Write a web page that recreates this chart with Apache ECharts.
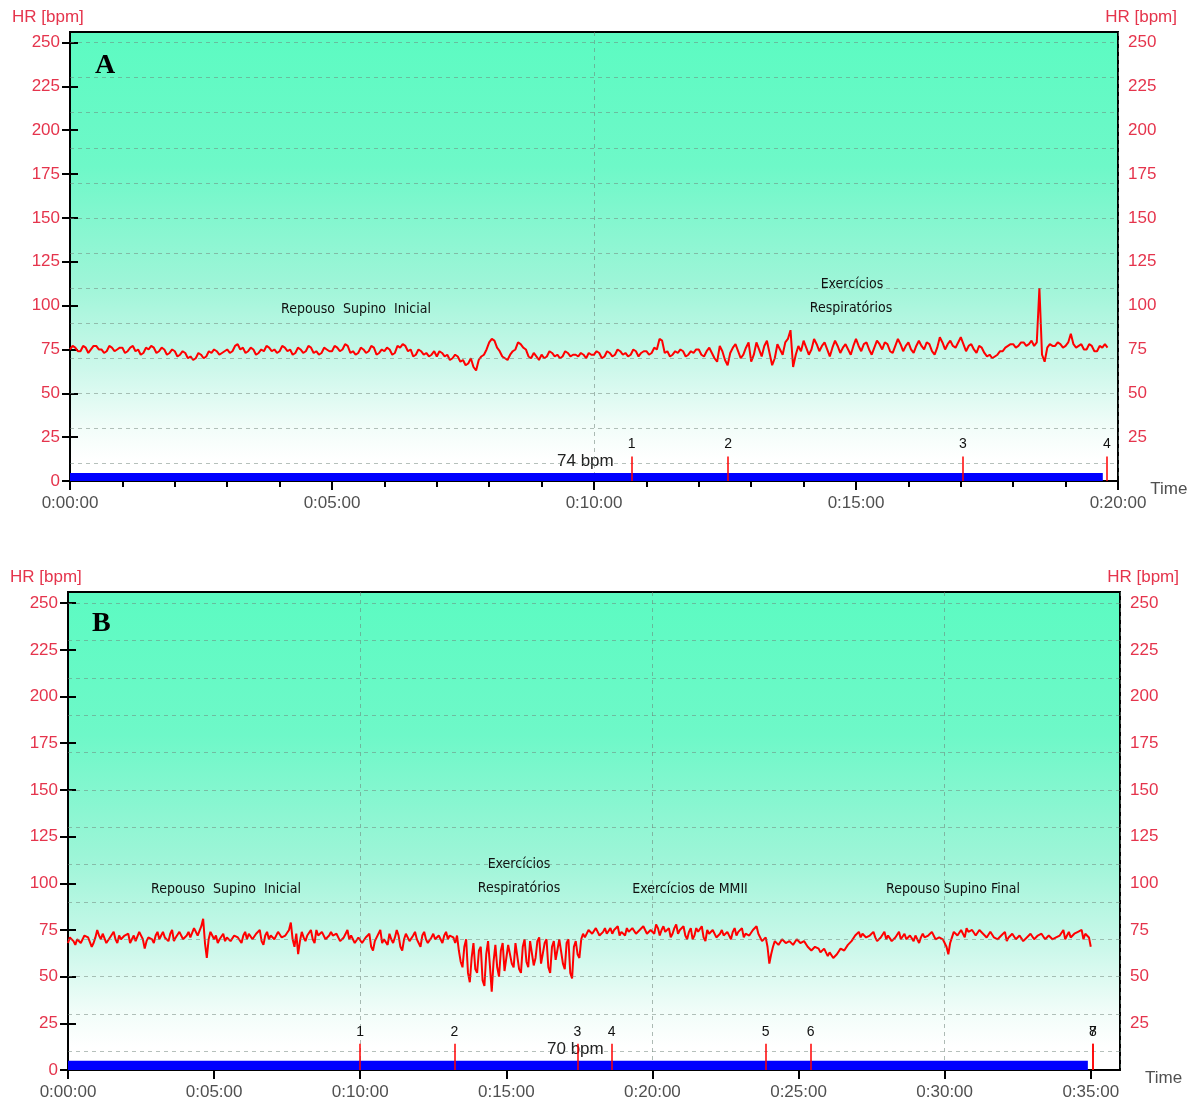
<!DOCTYPE html>
<html><head><meta charset="utf-8">
<script src="https://cdn.jsdelivr.net/npm/echarts@6/dist/echarts.min.js"></script>
<style>html,body{margin:0;padding:0;background:#fff}#c{width:1195px;height:1106px}</style>
</head><body><div id="c"></div>
<script>
// ---------- DATA ----------
// Panel A: heart rate (bpm), one sample every 0.05 min (3 s)
const stepA = 0.05;
const hrA = [
75,77,76,74,74,77,76,73,75,77,77,75,75,73,74,77,76,74,75,76,
76,73,74,76,77,74,75,72,73,76,75,77,76,73,74,76,75,72,73,75,
74,71,72,74,73,70,71,69,70,73,72,70,71,74,73,75,74,72,73,74,
75,73,74,77,78,75,76,73,74,76,75,72,73,75,74,77,76,74,75,73,
74,77,76,74,75,72,73,76,75,73,74,77,76,73,74,72,73,76,75,74,
74,77,76,74,75,78,77,73,74,72,73,76,75,73,74,77,76,72,73,75,
74,76,75,72,73,77,76,78,77,74,75,71,72,75,74,72,73,71,72,74,
71,74,73,71,72,69,70,72,71,68,69,66,67,70,65,63,69,71,72,75,
79,81,80,76,74,71,70,69,72,74,75,79,78,76,75,71,70,73,71,69,
72,70,71,74,73,71,72,70,71,74,73,71,72,72,71,73,72,70,73,72,
72,74,73,70,71,74,73,71,72,75,74,72,73,71,72,75,74,71,73,74,
74,72,73,76,75,81,80,73,74,71,72,74,73,75,74,71,72,74,73,75,
75,72,71,74,76,73,70,68,77,74,69,66,73,76,78,74,70,72,76,79,
68,72,79,75,71,77,80,73,66,70,78,75,72,79,81,86,65,72,77,74,
80,76,72,75,81,78,74,77,79,75,71,76,80,77,73,76,78,75,72,77,
81,77,74,78,79,75,72,76,80,78,75,79,78,74,73,77,81,78,74,77,
79,75,73,77,80,77,75,79,78,74,72,76,82,79,75,78,80,77,76,79,
82,78,74,77,78,75,73,77,76,73,71,72,70,71,72,74,74,76,77,78,
78,76,77,79,79,77,78,80,77,79,110,72,68,76,78,77,77,79,78,76,
77,79,84,78,76,77,78,75,75,78,77,74,74,77,76,78,76
];
// Panel B: heart rate (bpm), one sample every 0.0625 min (3.75 s)
const stepB = 0.0625;
const hrB = [
68,71,72,69,67,70,71,68,69,72,73,71,70,66,68,71,
75,72,70,73,72,68,69,71,71,74,70,68,72,70,69,72,
71,73,68,70,72,69,70,74,73,70,65,69,71,72,70,68,
72,74,70,72,74,71,71,69,73,75,69,71,72,74,73,70,
70,72,74,71,72,76,75,72,73,77,81,68,60,70,74,72,
70,72,68,70,71,73,69,71,72,69,70,72,73,71,71,68,
72,74,70,73,74,70,71,73,73,75,69,67,72,74,70,72,
73,70,71,74,74,71,70,72,72,75,79,70,66,73,62,69,
74,71,69,72,72,75,70,68,75,72,71,74,73,70,70,72,
74,72,71,73,72,69,68,71,73,75,70,72,71,68,69,71,
70,68,67,71,71,73,66,64,69,71,72,75,68,70,70,67,
73,70,68,71,75,72,66,64,70,73,72,69,69,72,74,70,
68,66,72,74,70,68,67,71,73,70,69,72,71,68,72,74,
70,72,73,71,68,72,64,58,55,66,70,52,47,60,68,54,
52,64,66,48,45,62,69,56,42,58,67,55,50,64,68,53,
53,67,66,57,55,68,69,54,52,66,70,58,55,69,68,56,
60,69,71,57,56,68,70,55,52,66,69,59,58,70,71,57,
54,68,70,52,49,66,69,62,60,70,73,71,72,75,76,73,
73,76,75,72,72,74,76,73,74,76,73,75,75,77,72,74,
74,72,76,74,73,76,75,73,72,75,74,77,76,73,73,75,
75,73,78,76,72,75,77,74,74,76,71,73,76,78,73,75,
75,77,72,70,74,76,70,72,76,74,73,77,71,69,75,73,
72,75,74,71,70,73,75,72,71,74,73,70,74,76,72,74,
75,76,71,73,74,72,72,75,75,77,73,74,69,70,71,66,
57,62,66,69,70,67,68,70,70,68,67,69,69,67,68,70,
70,68,67,69,69,66,66,64,64,66,67,65,63,64,65,63,
61,63,62,60,60,62,63,65,66,64,65,67,68,69,70,72,
72,74,71,73,73,71,70,72,72,74,71,69,69,71,72,74,
70,72,71,69,68,71,72,74,70,71,73,70,69,72,71,69,
72,70,68,71,73,71,70,72,71,74,74,70,69,71,72,70,
70,66,62,68,71,74,73,72,72,75,74,71,76,74,73,75,
74,72,72,75,75,73,73,71,71,74,74,71,72,70,70,72,
72,74,69,71,71,73,73,70,70,72,72,69,68,71,71,73,
72,70,70,72,71,73,73,70,69,72,72,70,70,71,71,72,
73,75,70,72,74,71,71,73,72,74,73,75,70,73,72,71,
66
];
// Event markers (minutes) and their labels
const eventsA = [10.72, 12.56, 17.04, 19.79];
const eventLabelsA = ['1','2','3','4'];
const eventsB = [10.0, 13.22, 17.43, 18.6, 23.87, 25.41, 35.07, 35.07];
const eventLabelsB = ['1','2','3','4','5','6','7','8'];
// Blue status bar extent (minutes) and height (bpm units)
const barA = [[0, 4.5], [19.71, 4.5]];
const barB = [[0, 5], [34.9, 5]];
// Axis ticks
const yTicks = [0,25,50,75,100,125,150,175,200,225,250];
const yTicksRightLabels = [25,50,75,100,125,150,175,200,225,250];
const hGrid = [10,30,50,70,90,110,130,150,170,190,210,230,250];
const markerTop = 14;
const meanTextA = '74 bpm';
const meanTextB = '70 bpm';

// ---------- CHART ----------
const RED_LABEL = '#e5344c';
const seriesPts = (arr, step) => arr.map((v, i) => [Math.round(i * step * 10000) / 10000, v]);
const fmtTime = v => '0:' + String(Math.round(v)).padStart(2, '0') + ':00';

const bg = {
  type: 'linear', x: 0, y: 0, x2: 0, y2: 1,
  colorStops: [
    {offset: 0, color: '#5cfbc2'},
    {offset: 0.3, color: '#6ef8c8'},
    {offset: 0.55, color: '#9cf5d7'},
    {offset: 0.75, color: '#cdf8eb'},
    {offset: 0.88, color: '#f2fdf9'},
    {offset: 0.95, color: '#ffffff'},
    {offset: 1, color: '#ffffff'}
  ]
};

function yAxisCfg(gridIndex, pos) {
  return {
    type: 'value', gridIndex, position: pos, min: 0, max: 256, interval: 25,
    axisLine: {show: true, lineStyle: {color: '#000', width: 2}},
    axisTick: {show: true, length: 8, lineStyle: {color: '#000', width: 2}, customValues: yTicks},
    axisLabel: {color: RED_LABEL, fontSize: 17, fontFamily: 'Liberation Sans, Arial, sans-serif',
      margin: 10, customValues: pos === 'right' ? yTicksRightLabels : yTicks},
    splitLine: {show: false}
  };
}
function xAxisCfg(gridIndex, max, minor) {
  return {
    type: 'value', gridIndex, min: 0, max, interval: 5,
    name: 'Time', nameLocation: 'end', nameGap: 25,
    nameTextStyle: {color: '#505050', fontSize: 17, fontFamily: 'Liberation Sans, Arial, sans-serif',
      verticalAlign: 'top', padding: [0, 0, 0, 0]},
    axisLine: {show: true, onZero: false, lineStyle: {color: '#000', width: 2}},
    axisTick: {show: true, length: 9, lineStyle: {color: '#000', width: 2}},
    minorTick: {show: minor, splitNumber: 5, length: 6, lineStyle: {color: '#000', width: 2}},
    axisLabel: {color: '#505050', fontSize: 17, fontFamily: 'Liberation Sans, Arial, sans-serif',
      margin: 14, formatter: fmtTime, showMaxLabel: max === 20},
    splitLine: {show: false}
  };
}
function vGridAxis(gridIndex, max) {
  return {
    type: 'value', gridIndex, min: 0, max, interval: 10, position: 'bottom',
    axisLine: {show: false}, axisTick: {show: false}, axisLabel: {show: false},
    splitLine: {show: true, lineStyle: {color: 'rgba(110,130,120,0.55)', type: [4, 4], width: 1}}
  };
}
function panelSeries(idx, hr, step, events, labels, bar) {
  const xi = idx * 2, yi = idx * 2;
  return [
    { type: 'line', xAxisIndex: xi, yAxisIndex: yi, data: bar, symbol: 'none', z: 1,
      lineStyle: {width: 0}, silent: true,
      markLine: {silent: true, symbol: 'none', animation: false, label: {show: false},
        lineStyle: {color: 'rgba(110,130,120,0.5)', type: [4, 4], width: 1},
        data: hGrid.map(v => ({yAxis: v}))} },
    { type: 'line', xAxisIndex: xi, yAxisIndex: yi, data: [], symbol: 'none', z: 2,
      markLine: {silent: true, symbol: 'none', animation: false,
        lineStyle: {color: '#ff0000', type: 'solid', width: 1.5},
        label: {show: true, position: 'end', distance: 5, color: '#111', fontSize: 14,
          fontFamily: 'Liberation Sans, Arial, sans-serif', formatter: p => p.name},
        data: events.map((t, i) => [{coord: [t, 0], name: labels[i]}, {coord: [t, markerTop]}])} },
    { type: 'line', xAxisIndex: xi, yAxisIndex: yi, data: bar, symbol: 'none', z: 3,
      lineStyle: {width: 0}, areaStyle: {color: '#0000ff', opacity: 1}, silent: true },
    { type: 'line', xAxisIndex: xi, yAxisIndex: yi, data: seriesPts(hr, step), symbol: 'none', z: 4,
      lineStyle: {color: '#ff0000', width: 2}, silent: true }
  ];
}

const narrow = "'Liberation Sans Narrow', 'DejaVu Sans Condensed', 'Arial Narrow', sans-serif";
const txt = (x, y, s, o) => Object.assign({type: 'text', x, y, silent: true,
  style: Object.assign({text: s, fill: '#111', font: '14px ' + narrow, textAlign: 'center', textVerticalAlign: 'middle'}, o || {})});
const red = {fill: RED_LABEL, font: '17px Liberation Sans, Arial, sans-serif', textAlign: 'left'};

const option = {
  animation: false,
  backgroundColor: '#fff',
  grid: [
    {left: 70, top: 32, width: 1048, height: 449, show: true, backgroundColor: bg, borderColor: '#000', borderWidth: 2},
    {left: 68, top: 592, width: 1052, height: 478, show: true, backgroundColor: bg, borderColor: '#000', borderWidth: 2}
  ],
  xAxis: [xAxisCfg(0, 20, true), vGridAxis(0, 20), xAxisCfg(1, 36, false), vGridAxis(1, 36)],
  yAxis: [yAxisCfg(0, 'left'), yAxisCfg(0, 'right'), yAxisCfg(1, 'left'), yAxisCfg(1, 'right')],
  series: [
    ...panelSeries(0, hrA, stepA, eventsA, eventLabelsA, barA),
    ...panelSeries(1, hrB, stepB, eventsB, eventLabelsB, barB)
  ],
  graphic: [
    txt(95, 66, 'A', {font: 'bold 28px Liberation Serif, Times New Roman, serif', textAlign: 'left', fill: '#000'}),
    txt(92, 624, 'B', {font: 'bold 28px Liberation Serif, Times New Roman, serif', textAlign: 'left', fill: '#000'}),
    txt(12, 17, 'HR [bpm]', red),
    txt(1177, 17, 'HR [bpm]', Object.assign({}, red, {textAlign: 'right'})),
    txt(10, 577, 'HR [bpm]', red),
    txt(1179, 577, 'HR [bpm]', Object.assign({}, red, {textAlign: 'right'})),
    txt(356, 309, 'Repouso  Supino  Inicial'),
    txt(852, 284, 'Exercícios'),
    txt(851, 308, 'Respiratórios'),
    txt(557, 461, meanTextA, {font: '17px Liberation Sans, Arial, sans-serif', textAlign: 'left', fill: '#222'}),
    txt(226, 889, 'Repouso  Supino  Inicial'),
    txt(519, 864, 'Exercícios'),
    txt(519, 888, 'Respiratórios'),
    txt(690, 889, 'Exercícios de MMII'),
    txt(953, 889, 'Repouso Supino Final'),
    txt(547, 1049, meanTextB, {font: '17px Liberation Sans, Arial, sans-serif', textAlign: 'left', fill: '#222'})
  ]
};
echarts.init(document.getElementById('c'), null, {renderer: 'canvas'}).setOption(option);
</script></body></html>
